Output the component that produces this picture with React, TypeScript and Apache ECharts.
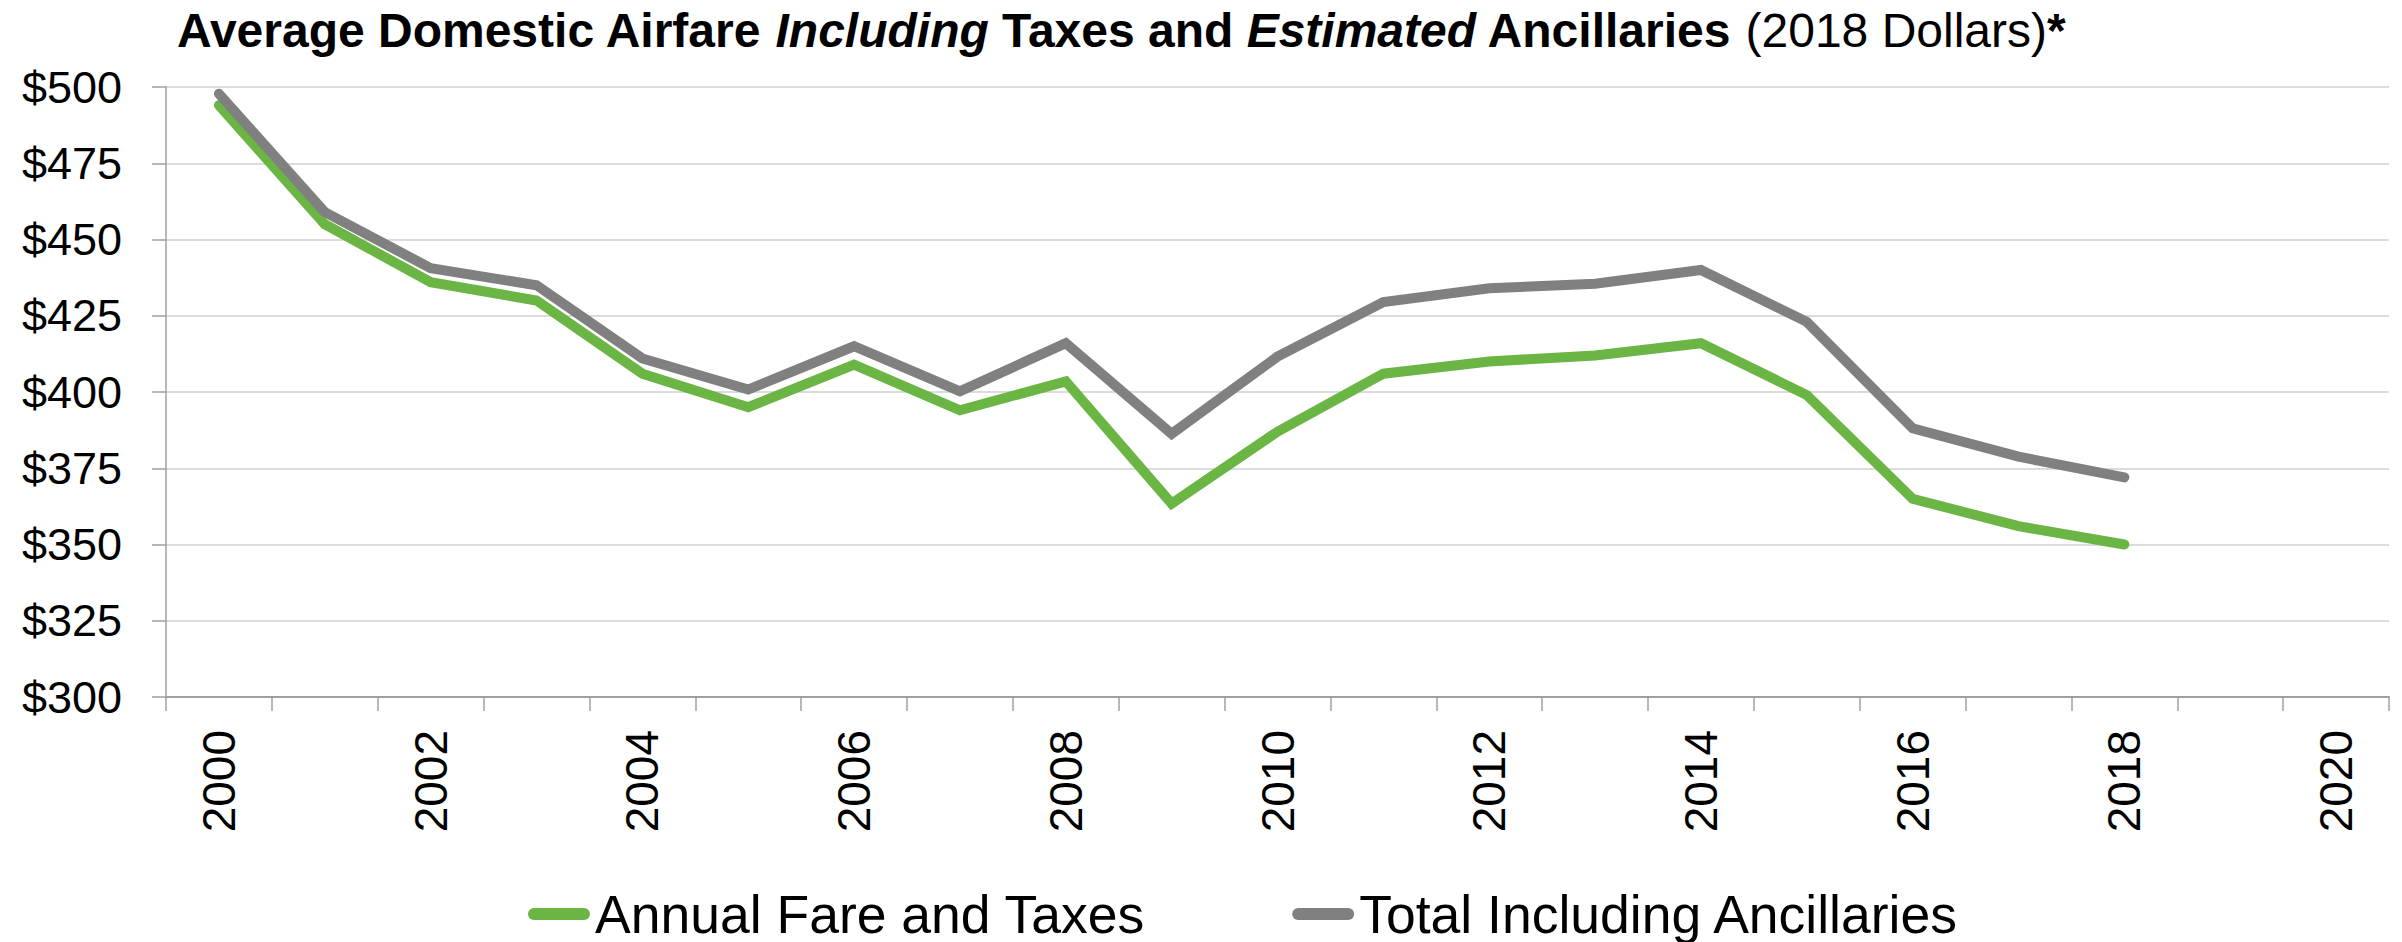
import React, { useEffect, useRef } from "react";
import * as echarts from "echarts";

const years = ["2000","2001","2002","2003","2004","2005","2006","2007","2008","2009","2010","2011","2012","2013","2014","2015","2016","2017","2018","2019","2020"];
const fareAndTaxes = [494, 455, 436, 430, 406, 395, 409, 394, 403.5, 363.4, 387, 406, 410, 412, 416, 399, 365, 356, 350];
const totalInclAncillaries = [497.8, 459, 440.6, 435, 411, 400.8, 415, 400.2, 416, 386.3, 411.6, 429.5, 434, 435.5, 440, 423, 388.1, 378.8, 372];
const seriesNames = ["Annual Fare and Taxes", "Total Including Ancillaries"];

const FONT = "'Liberation Sans', Arial, Helvetica, sans-serif";
const PILL = "path://M6,0 L56,0 A6,6 0 0 1 56,12 L6,12 A6,6 0 0 1 6,0 Z";

export default function App() {
  const ref = useRef<HTMLDivElement>(null);
  useEffect(() => {
    if (!ref.current) return;
    const chart = echarts.init(ref.current, undefined, { renderer: "svg" });
    chart.setOption({
      animation: false,
      backgroundColor: "#ffffff",
      title: {
        left: 177,
        top: 6,
        padding: 0,
        text:
          "{b|Average Domestic Airfare }{bi|Including}{b| Taxes and }{bi|Estimated}{b| Ancillaries }{n|(2018 Dollars)}{b|*}",
        textStyle: {
          fontFamily: FONT,
          fontSize: 48,
          color: "#000",
          rich: {
            b: { fontFamily: FONT, fontSize: 48, fontWeight: "bold", color: "#000" },
            bi: { fontFamily: FONT, fontSize: 48, fontWeight: "bold", fontStyle: "italic", color: "#000" },
            n: { fontFamily: FONT, fontSize: 48, fontWeight: "normal", color: "#000" },
          },
        },
      },
      legend: {
        left: 528,
        top: 887,
        itemWidth: 62,
        itemHeight: 12,
        itemGap: 147,
        padding: 0,
        textStyle: { fontFamily: FONT, fontSize: 53.5, color: "#000" },
        data: [
          { name: seriesNames[0], icon: PILL },
          { name: seriesNames[1], icon: PILL },
        ],
      },
      grid: { left: 166, right: 13, top: 87, bottom: 245, containLabel: false },
      xAxis: {
        type: "category",
        data: years,
        boundaryGap: true,
        axisLine: { lineStyle: { color: "#a0a0a0", width: 2 } },
        axisTick: { show: true, interval: 0, length: 14, lineStyle: { color: "#a0a0a0", width: 1.5 } },
        axisLabel: {
          interval: 1,
          rotate: 90,
          margin: 33,
          fontFamily: FONT,
          fontSize: 46,
          color: "#000",
        },
        splitLine: { show: false },
      },
      yAxis: {
        type: "value",
        min: 300,
        max: 500,
        interval: 25,
        axisLine: { show: true, lineStyle: { color: "#a0a0a0", width: 1.5 } },
        axisTick: { show: true, length: 14, lineStyle: { color: "#a0a0a0", width: 1.5 } },
        axisLabel: {
          margin: 44,
          fontFamily: FONT,
          fontSize: 45,
          color: "#000",
          formatter: (v: number) => "$" + v,
        },
        splitLine: { show: true, lineStyle: { color: "#dcdcdc", width: 2 } },
      },
      series: [
        {
          name: seriesNames[0],
          type: "line",
          data: fareAndTaxes,
          showSymbol: false,
          symbol: "none",
          color: "#6bb545",
          lineStyle: { color: "#6bb545", width: 10, cap: "round", join: "miter" },
        },
        {
          name: seriesNames[1],
          type: "line",
          data: totalInclAncillaries,
          showSymbol: false,
          symbol: "none",
          color: "#808080",
          lineStyle: { color: "#808080", width: 10, cap: "round", join: "miter" },
        },
      ],
    });
    return () => chart.dispose();
  }, []);
  return (
    <div
      ref={ref}
      style={{ position: "fixed", left: 0, top: 0, width: 2402, height: 942 }}
    />
  );
}
